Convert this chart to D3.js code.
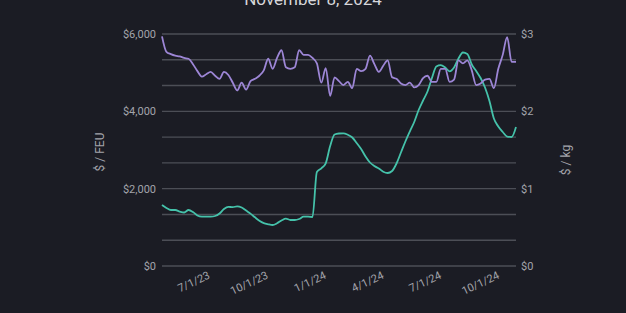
<!DOCTYPE html>
<html>
<head>
<meta charset="utf-8">
<script src="https://cdn.jsdelivr.net/npm/d3@7"></script>
<style>
  html, body { margin: 0; padding: 0; background: #1b1c24; }
  svg { display: block; }
  text { font-family: Roboto, "Noto Sans", sans-serif; }
</style>
</head>
<body>
<svg id="chart" width="626" height="313"></svg>
<script>
// ---- data ----
const title = "November 8, 2024";
const firstWeek = "2023-04-19";   // weekly observations
const airPerKg = [
  2.97, 2.77, 2.74, 2.72, 2.71, 2.69, 2.68, 2.61, 2.52, 2.45,
  2.48, 2.51, 2.46, 2.42, 2.51, 2.47, 2.37, 2.27, 2.37, 2.28,
  2.39, 2.42, 2.46, 2.53, 2.68, 2.55, 2.69, 2.79, 2.57, 2.55,
  2.57, 2.79, 2.73, 2.73, 2.69, 2.62, 2.37, 2.56, 2.20, 2.44,
  2.39, 2.34, 2.38, 2.30, 2.55, 2.52, 2.55, 2.72, 2.61, 2.51,
  2.59, 2.66, 2.44, 2.42, 2.36, 2.34, 2.37, 2.31, 2.34, 2.43,
  2.46, 2.38, 2.38, 2.55, 2.55, 2.38, 2.41, 2.66, 2.62, 2.66,
  2.53, 2.34, 2.36, 2.41, 2.42, 2.30, 2.55, 2.73, 2.96, 2.64,
  2.64
];
const oceanPerFEU = [
  1578, 1500, 1448, 1448, 1409, 1384, 1448, 1397, 1306, 1275,
  1275, 1275, 1293, 1358, 1474, 1531, 1521, 1544, 1513, 1435,
  1355, 1259, 1169, 1107, 1078, 1060, 1104, 1177, 1226, 1190,
  1190, 1215, 1275, 1275, 1267, 2431, 2527, 2656, 3103, 3401,
  3427, 3432, 3393, 3323, 3181, 3026, 2832, 2677, 2586, 2522,
  2439, 2405, 2457, 2651, 2935, 3220, 3478, 3724, 4034, 4280,
  4513, 4862, 5159, 5193, 5134, 5035, 5134, 5366, 5521, 5483,
  5211, 5043, 4862, 4616, 4267, 3815, 3608, 3466, 3349, 3336,
  3595
];
const xTickDates = ["2023-07-01", "2023-10-01", "2024-01-01", "2024-04-01", "2024-07-01", "2024-10-01"];
const leftTicks = [0, 2000, 4000, 6000];
const rightTicks = [0, 1, 2, 3];
const leftTitle = "$ / FEU";
const rightTitle = "$ / kg";

// ---- layout ----
const W = 626, H = 313;
const plot = { left: 162, right: 516, top: 34, bottom: 266 };
const colors = { bg: "#1b1c24", grid: "#4c4e56", text: "#a3a4ab", title: "#d6d6da", air: "#9d86d6", ocean: "#45c2aa" };

const parse = d3.utcParse("%Y-%m-%d");
const start = parse(firstWeek);
const dates = oceanPerFEU.map((_, i) => d3.utcDay.offset(start, 7 * i));

const x = d3.scaleUtc().domain(d3.extent(dates)).range([plot.left, plot.right]);
const yL = d3.scaleLinear().domain([0, 6000]).range([plot.bottom, plot.top]);
const yR = d3.scaleLinear().domain([0, 3]).range([plot.bottom, plot.top]);

const svg = d3.select("#chart");
svg.append("rect").attr("width", W).attr("height", H).attr("fill", colors.bg);

// title (partly cut at the top)
svg.append("text").attr("x", 313).attr("y", 5).attr("text-anchor", "middle")
  .attr("fill", colors.title).attr("font-size", 17).text(title);

// gridlines (9 intervals)
const gridVals = d3.range(0, 10).map(i => i * 6000 / 9);
svg.append("g").selectAll("line").data(gridVals).join("line")
  .attr("x1", plot.left).attr("x2", plot.right)
  .attr("y1", d => yL(d)).attr("y2", d => yL(d))
  .attr("stroke", colors.grid).attr("stroke-width", 1.4);

// left axis
const fmtL = d => "$" + d3.format(",")(d);
const gL = svg.append("g").attr("transform", `translate(${plot.left},0)`)
  .call(d3.axisLeft(yL).tickValues(leftTicks).tickFormat(fmtL).tickSize(0).tickPadding(6));
gL.select(".domain").remove();
gL.selectAll("text").attr("fill", colors.text).attr("font-size", 11);

// right axis
const gR = svg.append("g").attr("transform", `translate(${plot.right},0)`)
  .call(d3.axisRight(yR).tickValues(rightTicks).tickFormat(d => "$" + d).tickSize(0).tickPadding(5));
gR.select(".domain").remove();
gR.selectAll("text").attr("fill", colors.text).attr("font-size", 11);

// x axis
const fmtX = d3.utcFormat("%-m/%-d/%y");
const gX = svg.append("g").attr("transform", `translate(0,${plot.bottom})`)
  .call(d3.axisBottom(x).tickValues(xTickDates.map(parse)).tickFormat(fmtX).tickSize(0).tickPadding(0));
gX.select(".domain").remove();
gX.selectAll("text")
  .attr("fill", colors.text).attr("font-size", 11)
  .attr("text-anchor", "end")
  .attr("dy", "0")
  .attr("transform", "translate(2,12) rotate(-25)");

// axis titles
svg.append("text").attr("transform", `translate(104,152) rotate(-90)`)
  .attr("text-anchor", "middle").attr("fill", colors.text).attr("font-size", 12).text(leftTitle);
svg.append("text").attr("transform", `translate(570,160) rotate(-90)`)
  .attr("text-anchor", "middle").attr("fill", colors.text).attr("font-size", 12).text(rightTitle);

// lines
const lineOcean = d3.line().x((d, i) => x(dates[i])).y(d => yL(d)).curve(d3.curveMonotoneX);
const lineAir = d3.line().x((d, i) => x(dates[i])).y(d => yR(d)).curve(d3.curveMonotoneX);

svg.append("path").datum(oceanPerFEU).attr("d", lineOcean)
  .attr("fill", "none").attr("stroke", colors.ocean).attr("stroke-width", 1.8);
svg.append("path").datum(airPerKg).attr("d", lineAir)
  .attr("fill", "none").attr("stroke", colors.air).attr("stroke-width", 1.8);
</script>
</body>
</html>
